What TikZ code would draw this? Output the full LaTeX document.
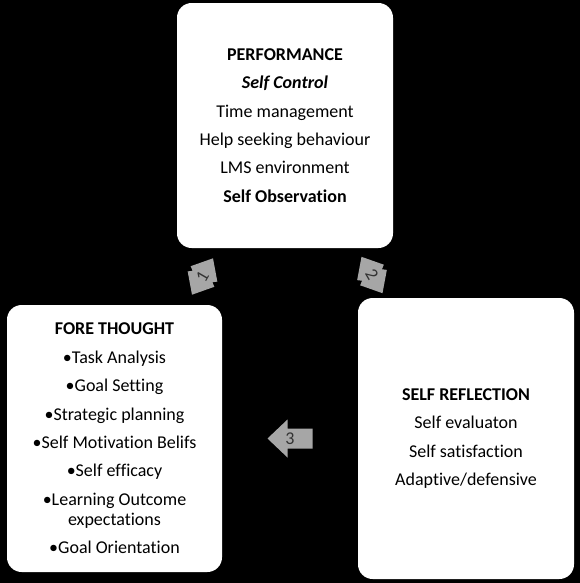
\documentclass[tikz,border=0pt]{standalone}
\usepackage{fontspec}
\setmainfont{Carlito}[Ligatures=NoCommon]
\usetikzlibrary{calc}

\tikzset{
  stagebox/.style={fill=white,rounded corners=11pt,align=center,inner sep=0pt,
    font=\fontsize{13.5}{21.3}\selectfont},
  arrowfill/.style={fill=black!35},
  steplabel/.style={font=\fontsize{13.5}{14}\selectfont,text=black!80,inner sep=0pt}
}

\begin{document}
\begin{tikzpicture}[x=0.75pt,y=-0.75pt]
\fill[black] (0,0) rectangle (580,583);
% the three phases
\node[stagebox,minimum width=162pt,minimum height=183.75pt] (perf) at (285,125.5)
  {\textbf{PERFORMANCE}\\\textbf{\textit{Self Control}}\\Time management\\Help seeking behaviour\\LMS environment\\\textbf{Self Observation}};
\node[stagebox,minimum width=161.25pt,minimum height=200.25pt] (fore) at (114.5,438.5)
  {\textbf{FORE THOUGHT}\\\textbullet Task Analysis\\\textbullet Goal Setting\\\textbullet Strategic planning\\\textbullet Self Motivation Belifs\\\textbullet Self efficacy\\\textbullet Learning Outcome\\[-6.3pt]expectations\\\textbullet Goal Orientation};
\node[stagebox,minimum width=162pt,minimum height=210.75pt] (refl) at (466,438.5)
  {\textbf{SELF REFLECTION}\\Self evaluaton\\Self satisfaction\\Adaptive/defensive};
% arrow 1: fore thought -> performance
\begin{scope}[shift={($(fore.north east)!0.5!(perf.south west)+(3,0)$)},rotate=60]
\fill[arrowfill] (-21,0) -- (-3,15.4) -- (0,11.5) -- (3,15.4) -- (21,0) -- (3,-15.4) -- (0,-11.5) -- (-3,-15.4) -- cycle;
\node[steplabel,transform shape] (num1) at (0,0) {1};
\end{scope}
% arrow 2: performance -> self reflection
\begin{scope}[shift={($(perf.south east)!0.5!(refl.north west)+(-3.5,2)$)},rotate=-60]
\fill[arrowfill] (-21,0) -- (-3,15.4) -- (0,11.5) -- (3,15.4) -- (21,0) -- (3,-15.4) -- (0,-11.5) -- (-3,-15.4) -- cycle;
\node[steplabel,transform shape] (num2) at (0,0) {2};
\end{scope}
% arrow 3: self reflection -> fore thought
\begin{scope}[shift={($(fore.east)!0.5!(refl.west)$)},rotate=180]
\fill[arrowfill] (22.5,0) -- (2.5,19) -- (2.5,10) -- (-22.5,10) -- (-22.5,-10) -- (2.5,-10) -- (2.5,-19) -- cycle;
\end{scope}
\node[steplabel] (num3) at ($(fore.east)!0.5!(refl.west)$) {3};
\end{tikzpicture}
\end{document}
